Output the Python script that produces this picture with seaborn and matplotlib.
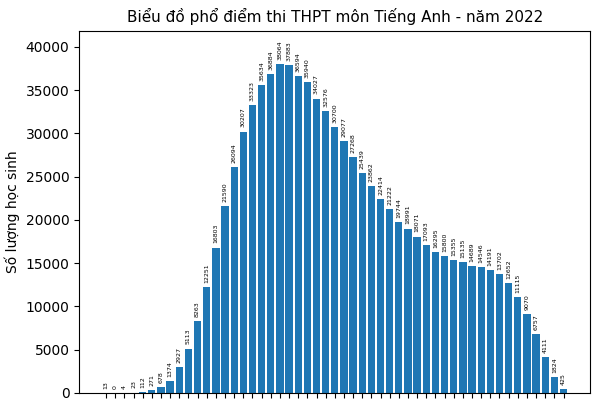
import numpy as np
import pandas as pd
import matplotlib
matplotlib.use("Agg")
import matplotlib.pyplot as plt
import seaborn as sns

scores = [f"{i / 5:.1f}" for i in range(51)]
counts = [13, 0, 4, 23, 112, 271, 678, 1374, 2927, 5113, 8263, 12251, 16803,
          21590, 26094, 30207, 33323, 35634, 36884, 38064, 37883, 36594, 35940,
          34027, 32576, 30700, 29077, 27268, 25439, 23862, 22414, 21222, 19744,
          18991, 18071, 17093, 16295, 15800, 15355, 15135, 14689, 14546, 14191,
          13702, 12652, 11115, 9070, 6757, 4111, 1824, 425]

df = pd.DataFrame({"score": scores, "count": counts})

fig = plt.figure(figsize=(6, 4), dpi=100)
ax = fig.add_axes([0.132, 0.018, 0.852, 0.905])
sns.barplot(data=df, x="score", y="count", color="#1f77b4", saturation=1,
            width=0.8, ax=ax)
ax.bar_label(ax.containers[0], rotation=90, fontsize=4.5, padding=3)

ax.set_xlim(-2.94, 52.94)
ax.set_ylim(0, max(counts) * 1.1)
# the score labels under the axis fall outside the cropped picture
ax.set_xticklabels([])
ax.set_xlabel("")
ax.set_ylabel("Số lượng học sinh", fontsize=10)
ax.set_title("Biểu đồ phổ điểm thi THPT môn Tiếng Anh - năm 2022", fontsize=11)

fig.savefig("out.png", dpi=100)
